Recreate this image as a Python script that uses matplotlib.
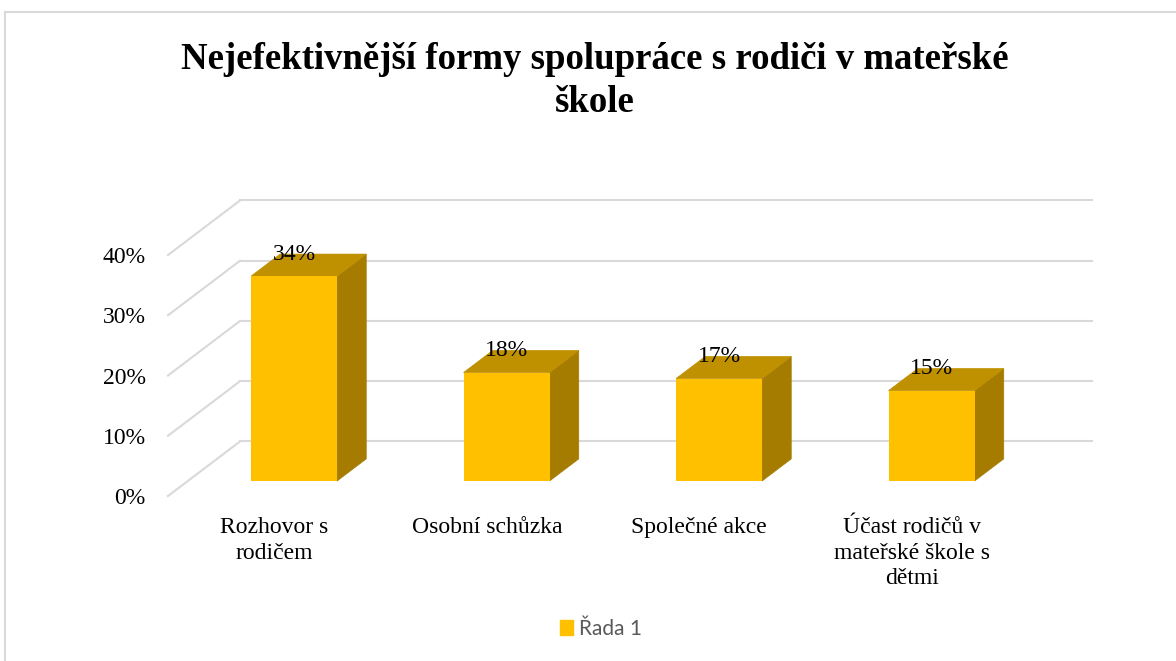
import matplotlib
matplotlib.use("Agg")
import matplotlib.pyplot as plt
from matplotlib.patches import Polygon, Patch
from matplotlib.lines import Line2D
from matplotlib.ticker import PercentFormatter

categories = ["Rozhovor s\nrodičem", "Osobní schůzka", "Společné akce",
              "Účast rodičů v\nmateřské škole s\ndětmi"]
values = [0.34, 0.18, 0.17, 0.15]
labels = ["34%", "18%", "17%", "15%"]
yticks = [0.0, 0.1, 0.2, 0.3, 0.4]
series_name = "Řada 1"
title = "Nejefektivnější formy spolupráce s rodiči v mateřské\nškole"

front_col = "#FFC000"
top_col = "#BF9000"
side_col = "#A67C00"
grid_col = "#D9D9D9"

plt.rcParams["font.family"] = ["Liberation Serif", "DejaVu Serif"]

W, H = 1176, 661
fig = plt.figure(figsize=(W / 100, H / 100), dpi=100)
# front plane of the 3D box
ax = fig.add_axes([168 / W, (H - 496) / H, 850 / W, 241 / H])
ax.set_xlim(-0.5, len(categories) - 0.5)
ax.set_ylim(0, 0.4)

# depth of the floor in data units, bar placement along depth
DX, DY = 72 / 212.5, 0.0905
f_front, f_depth = 0.275, 0.405
bw = 0.405
x_right = 3.848

# back wall and left wall gridlines
for v in yticks:
    ax.plot([-0.5, -0.5 + DX], [v, v + DY], color=grid_col, lw=1.5,
            clip_on=False, zorder=1)
    ax.plot([-0.5 + DX, x_right], [v + DY, v + DY], color=grid_col, lw=1.5,
            clip_on=False, zorder=1)

for i, v in enumerate(values):
    cx = i + f_front * DX
    y0 = f_front * DY
    x0, x1 = cx - bw / 2, cx + bw / 2
    ddx, ddy = f_depth * DX, f_depth * DY
    # side face
    ax.add_patch(Polygon([(x1, y0), (x1 + ddx, y0 + ddy), (x1 + ddx, v + y0 + ddy), (x1, v + y0)],
                         closed=True, facecolor=side_col, edgecolor=side_col, lw=0.5,
                         clip_on=False, zorder=2))
    # top face
    ax.add_patch(Polygon([(x0, v + y0), (x0 + ddx, v + y0 + ddy), (x1 + ddx, v + y0 + ddy), (x1, v + y0)],
                         closed=True, facecolor=top_col, edgecolor=top_col, lw=0.5,
                         clip_on=False, zorder=2))
    # front face
    ax.bar(cx, v, width=bw, bottom=y0, color=front_col, zorder=3, clip_on=False)
    ax.text(cx, v + y0 + ddy, labels[i], ha="center", va="center",
            fontsize=17, color="black", zorder=4)

for s in ax.spines.values():
    s.set_visible(False)
ax.set_yticks(yticks)
ax.yaxis.set_major_formatter(PercentFormatter(1.0, decimals=0))
ax.set_xticks(range(len(categories)))
ax.set_xticklabels(categories, linespacing=1.3)
ax.tick_params(axis="y", length=0, pad=16, labelsize=17)
ax.tick_params(axis="x", length=0, pad=15, labelsize=17)
ax.patch.set_alpha(0)

fig.text(595 / W, 1 - 81 / H, title, ha="center", va="center", fontsize=26.5,
         fontweight="bold", linespacing=1.3)

leg = fig.legend(handles=[Patch(facecolor=front_col, edgecolor=front_col)],
                 labels=[series_name], loc="center", bbox_to_anchor=(601 / W, 1 - 629 / H),
                 frameon=False, handlelength=0.6, handleheight=0.7, handletextpad=0.3,
                 prop={"family": "Lato", "size": 15})
for t in leg.get_texts():
    t.set_color("#595959")

# outer chart border
fig.add_artist(Line2D([5 / W, 5 / W], [0, 1 - 12 / H], color=grid_col, lw=1.5))
fig.add_artist(Line2D([5 / W, 1], [1 - 12 / H, 1 - 12 / H], color=grid_col, lw=1.5))

fig.savefig("out.png", dpi=100, facecolor="white")
